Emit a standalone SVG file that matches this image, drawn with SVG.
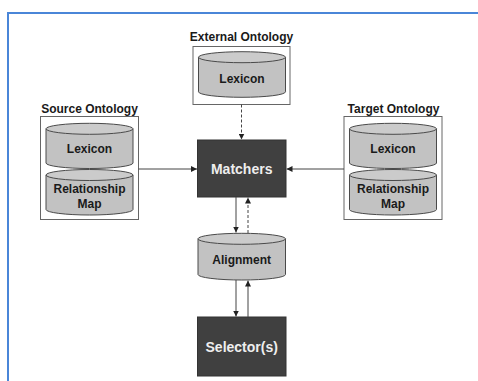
<svg xmlns="http://www.w3.org/2000/svg" width="478" height="381" viewBox="0 0 478 381">
<style>
.frame{fill:none;stroke:#4a86d8;stroke-width:2}
.cont{fill:#ffffff;stroke:#666666;stroke-width:1}
.cyl{fill:#c2c2c2;stroke:#4a4a4a;stroke-width:1}
.cyltop{fill:#cbcbcb;stroke:#4a4a4a;stroke-width:1}
.dark{fill:#404040;stroke:#333333;stroke-width:1}
.title{font-family:"Liberation Sans",Arial,sans-serif;font-weight:bold;font-size:12px;fill:#1a1a1a;text-anchor:middle}
.lbl{font-family:"Liberation Sans",Arial,sans-serif;font-weight:bold;font-size:12px;fill:#1a1a1a;text-anchor:middle}
.wlbl{font-family:"Liberation Sans",Arial,sans-serif;font-weight:bold;font-size:14px;fill:#eeeeee;text-anchor:middle}
.conn{fill:none;stroke:#444444;stroke-width:1}
.dash{stroke-dasharray:3,2}
</style>
<defs>
<marker id="ah" markerWidth="6" markerHeight="6" refX="6" refY="3" orient="auto" markerUnits="userSpaceOnUse">
<path d="M0,0 L6,3 L0,6 Z" fill="#222222"/>
</marker>
</defs>
<path class="frame" d="M8,381 V13 H478"/>

<g id="external-ontology">
<text class="title" x="241.5" y="41">External Ontology</text>
<rect class="cont" x="193" y="46.5" width="97" height="58"/>
<path class="cyl" d="M198.5,57.2 V91.8 A43.5,5.5 0 0 0 285.5,91.8 V57.2"/>
<ellipse class="cyltop" cx="242" cy="57.2" rx="43.5" ry="5.5"/>
<text class="lbl" x="242" y="82.6">Lexicon</text>
</g>

<g id="source-ontology">
<text class="title" x="89.5" y="112.6">Source Ontology</text>
<rect class="cont" x="40.5" y="116.5" width="98" height="103"/>
<path class="cyl" d="M46,128.8 V163 A43.5,5.5 0 0 0 133,163 V128.8"/>
<ellipse class="cyltop" cx="89.5" cy="128.8" rx="43.5" ry="5.5"/>
<text class="lbl" x="89.5" y="152.6">Lexicon</text>
<path class="cyl" d="M46,175 V209.5 A43.5,5.5 0 0 0 133,209.5 V175"/>
<ellipse class="cyltop" cx="89.5" cy="175" rx="43.5" ry="5.5"/>
<text class="lbl" x="89.5" y="193.3">Relationship</text>
<text class="lbl" x="89.5" y="207.5">Map</text>
</g>

<g id="target-ontology">
<text class="title" x="393.5" y="112.6">Target Ontology</text>
<rect class="cont" x="344" y="116.5" width="98" height="103"/>
<path class="cyl" d="M349.5,128.8 V163 A43.5,5.5 0 0 0 436.5,163 V128.8"/>
<ellipse class="cyltop" cx="393" cy="128.8" rx="43.5" ry="5.5"/>
<text class="lbl" x="393" y="152.6">Lexicon</text>
<path class="cyl" d="M349.5,175 V209.5 A43.5,5.5 0 0 0 436.5,209.5 V175"/>
<ellipse class="cyltop" cx="393" cy="175" rx="43.5" ry="5.5"/>
<text class="lbl" x="393" y="193.3">Relationship</text>
<text class="lbl" x="393" y="207.5">Map</text>
</g>

<g id="matchers">
<rect class="dark" x="197.5" y="140" width="88.5" height="57"/>
<text class="wlbl" x="241.7" y="173.8">Matchers</text>
</g>

<g id="alignment">
<path class="cyl" d="M198,238.8 V274.5 A43.75,5.5 0 0 0 285.5,274.5 V238.8"/>
<ellipse class="cyltop" cx="241.75" cy="238.8" rx="43.75" ry="5.5"/>
<text class="lbl" x="241.7" y="264.3">Alignment</text>
</g>

<g id="selectors">
<rect class="dark" x="197.5" y="317" width="88.5" height="59"/>
<text class="wlbl" x="241.7" y="352">Selector(s)</text>
</g>

<g id="connectors">
<line class="conn dash" x1="241.5" y1="104.5" x2="241.5" y2="139.5" marker-end="url(#ah)"/>
<line class="conn" x1="138.5" y1="169" x2="197" y2="169" marker-end="url(#ah)"/>
<line class="conn" x1="344" y1="169" x2="286.5" y2="169" marker-end="url(#ah)"/>
<line class="conn" x1="236" y1="197" x2="236" y2="232.5" marker-end="url(#ah)"/>
<line class="conn dash" x1="248" y1="233" x2="248" y2="197.5" marker-end="url(#ah)"/>
<line class="conn" x1="236" y1="280" x2="236" y2="316.5" marker-end="url(#ah)"/>
<line class="conn" x1="248" y1="317" x2="248" y2="280.5" marker-end="url(#ah)"/>
</g>
</svg>
